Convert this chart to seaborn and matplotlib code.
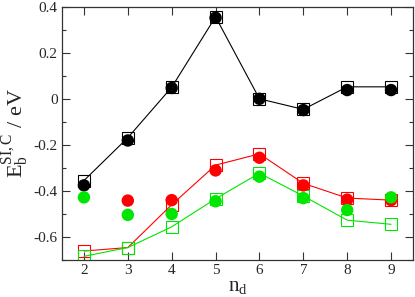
import numpy as np
import pandas as pd
import matplotlib
matplotlib.use('Agg')
import matplotlib.pyplot as plt
import seaborn as sns
from matplotlib.ticker import MultipleLocator

nd = [2, 3, 4, 5, 6, 7, 8, 9]

black_sq = [-0.355, -0.169, 0.050, 0.356, 0.000, -0.046, 0.052, 0.052]
black_ci = [-0.376, -0.181, 0.047, 0.352, 0.000, -0.049, 0.038, 0.038]
red_sq = [-0.661, -0.646, -0.460, -0.288, -0.239, -0.367, -0.431, -0.440]
red_ci = [np.nan, -0.442, -0.440, -0.311, -0.256, -0.376, -0.438, -0.440]
green_sq = [-0.684, -0.646, -0.556, -0.434, -0.323, -0.422, -0.527, -0.545]
green_ci = [-0.428, -0.504, -0.500, -0.445, -0.338, -0.431, -0.483, -0.428]

sns.set_style('ticks')
plt.rcParams['font.family'] = ['Liberation Serif', 'DejaVu Serif']
plt.rcParams['mathtext.fontset'] = 'custom'
plt.rcParams['mathtext.rm'] = 'Liberation Serif'
plt.rcParams['mathtext.it'] = 'Liberation Serif'

fig = plt.figure(figsize=(4.15, 2.97), dpi=100)
ax = fig.add_axes([62 / 415, 1 - 260 / 297, 351 / 415, 253.3 / 297])

series = [
    (black_sq, black_ci, 'black'),
    (red_sq, red_ci, '#ff0000'),
    (green_sq, green_ci, '#00e600'),
]
for sq, ci, col in series:
    df = pd.DataFrame({'nd': nd, 'sq': sq, 'ci': ci})
    ax.plot(df['nd'], df['sq'], color=col, lw=0.8, marker='s', ms=8.8,
            mfc='none', mec=col, mew=0.8, zorder=2)
    sns.scatterplot(data=df.dropna(), x='nd', y='ci', ax=ax, color=col,
                    s=80, edgecolor='none', zorder=3)

ax.set_xlim(1.5, 9.5)
ax.set_ylim(-0.7, 0.4)
ax.set_xticks(nd)
ax.yaxis.set_major_locator(MultipleLocator(0.2))
ax.yaxis.set_minor_locator(MultipleLocator(0.1))
ax.yaxis.set_major_formatter(matplotlib.ticker.FuncFormatter(
    lambda v, p: '0' if abs(v) < 1e-9 else ('%.1f' % v)))
ax.tick_params(which='both', direction='in', top=True, right=True,
               labelsize=11, width=0.8, color='#333333')
ax.tick_params(which='major', length=6, pad=3)
ax.tick_params(which='minor', length=3)
for s in ax.spines.values():
    s.set_linewidth(0.9)
    s.set_color('#333333')

ax.set_xlabel(r'n$_\mathrm{d}$', fontsize=15, labelpad=0)
ax.set_ylabel(r'E$_\mathrm{b}^\mathrm{SI,C}$ / eV', fontsize=16, labelpad=2)

fig.savefig('out.png', dpi=100)
